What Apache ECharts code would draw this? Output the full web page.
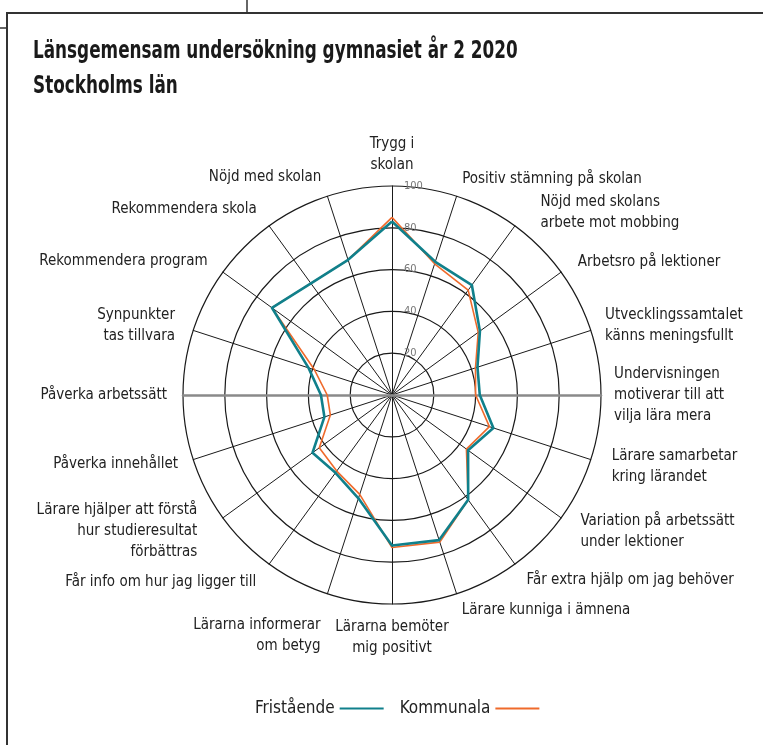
<!DOCTYPE html>
<html>
<head>
<meta charset="utf-8">
<title>Länsgemensam undersökning gymnasiet år 2 2020</title>
<script src="https://cdn.jsdelivr.net/npm/echarts@6/dist/echarts.min.js"></script>
<style>
  html, body { margin: 0; padding: 0; background: #fff; }
  #chart { width: 763px; height: 745px; }
</style>
</head>
<body>
<div id="chart"></div>
<script>
// indikatorer, medurs från toppen
const categories = [
  'Trygg i\nskolan',
  'Positiv stämning på skolan',
  'Nöjd med skolans\narbete mot mobbing',
  'Arbetsro på lektioner',
  'Utvecklingssamtalet\nkänns meningsfullt',
  'Undervisningen\nmotiverar till att\nvilja lära mera',
  'Lärare samarbetar\nkring lärandet',
  'Variation på arbetssätt\nunder lektioner',
  'Får extra hjälp om jag behöver',
  'Lärare kunniga i ämnena',
  'Lärarna bemöter\nmig positivt',
  'Lärarna informerar\nom betyg',
  'Får info om hur jag ligger till',
  'Lärare hjälper att förstå\nhur studieresultat\nförbättras',
  'Påverka innehållet',
  'Påverka arbetssätt',
  'Synpunkter\ntas tillvara',
  'Rekommendera program',
  'Rekommendera skola',
  'Nöjd med skolan'
]
const fristaende = [83, 67, 65, 52, 43, 42, 51, 45, 62, 73, 72, 52, 46, 47, 34, 34, 42, 71, 66, 68]
const kommunala = [85, 66, 62, 51, 42, 40, 49, 44, 62, 74, 73, 50, 45, 43, 31, 31, 39, 71, 66, 68]
const scaleMin = 0
const scaleMax = 100
const tickStep = 20

const FONT = "'Liberation Sans Narrow', 'DejaVu Sans Condensed', sans-serif"
const TEAL = '#10808b'
const ORANGE = '#ef6a2b'
const CENTER = [392, 395]
const RADIUS = 209
// avstånd mellan cirkeln och respektive etikett (samma ordning som categories)
const nameGaps = [10, 18, 30, 17, 15, 13, 22, 24, 20, 17, 13, 22, 22, 23, 16, 16, 15, 19, 21, 20]
// sidledes justering [top, right, bottom, left]
const namePads = {
  2: [0, 0, 0, 8],
  3: [0, 0, 0, 3],
  13: [0, 7, 0, 0],
  16: [0, 4, 0, 0]
}
// tomma rader ovanför för att skjuta ner etiketten
const nameDrop = {
  2: 1,
  11: 2
}

// echarts radar lägger axlarna moturs, vänd ordningen efter första
const clockwise = arr => [arr[0]].concat(arr.slice(1).reverse())

const indicators = categories.map((n, i) => {
  const ind = { name: n, min: scaleMin, max: scaleMax, nameGap: nameGaps[i] }
  if (namePads[i]) ind.nameTextStyle = { padding: namePads[i] }
  return ind
})

const chart = echarts.init(document.getElementById('chart'), null, { renderer: 'canvas' })
chart.setOption({
  backgroundColor: '#fff',
  animation: false,
  legend: {
    data: ['Fristående', 'Kommunala'],
    left: 250,
    top: 695,
    align: 'right',
    icon: 'rect',
    itemWidth: 44,
    itemHeight: 2,
    itemGap: 16,
    textStyle: { fontFamily: FONT, fontSize: 17, color: '#222' }
  },
  radar: [
    {
      center: CENTER,
      radius: RADIUS,
      startAngle: 90,
      shape: 'circle',
      splitNumber: (scaleMax - scaleMin) / tickStep,
      nameGap: 10,
      indicator: clockwise(indicators),
      axisName: {
        color: '#222',
        fontFamily: FONT,
        fontSize: 15,
        lineHeight: 21,
        formatter: name => {
          const i = categories.indexOf(name)
          return '\n'.repeat(nameDrop[i] || 0) + name
        }
      },
      axisLine: { lineStyle: { color: '#1a1a1a', width: 1 } },
      splitLine: { lineStyle: { color: '#1a1a1a', width: 1.2 } },
      splitArea: { show: false },
      axisTick: { show: false },
      axisLabel: { show: false }
    },
    {
      // grå horisontell linje
      center: CENTER,
      radius: RADIUS,
      startAngle: 0,
      shape: 'circle',
      splitNumber: 1,
      indicator: [{ name: '', max: scaleMax }, { name: '', max: scaleMax }],
      axisName: { show: false },
      axisLine: { lineStyle: { color: '#8a8a8a', width: 2.5 } },
      splitLine: { show: false },
      splitArea: { show: false }
    }
  ],
  polar: { center: CENTER, radius: RADIUS },
  angleAxis: { type: 'value', min: 0, max: 360, startAngle: 90, show: false },
  radiusAxis: {
    type: 'value',
    min: scaleMin,
    max: scaleMax,
    interval: tickStep,
    axisLine: { show: false },
    axisTick: { show: false },
    splitLine: { show: false },
    axisLabel: { show: true, showMinLabel: false, color: '#777', fontFamily: FONT, fontSize: 11, margin: -12, align: 'left' }
  },
  series: [
    {
      type: 'radar',
      radarIndex: 0,
      symbol: 'none',
      data: [
        {
          name: 'Kommunala',
          value: clockwise(kommunala),
          lineStyle: { color: ORANGE, width: 1.6 },
          itemStyle: { color: ORANGE }
        },
        {
          name: 'Fristående',
          value: clockwise(fristaende),
          lineStyle: { color: TEAL, width: 2.6 },
          itemStyle: { color: TEAL }
        }
      ]
    }
  ],
  graphic: [
    {
      type: 'text',
      x: 33,
      y: 34,
      scaleX: 0.78,
      style: {
        text: 'Länsgemensam undersökning gymnasiet år 2 2020\nStockholms län',
        font: "bold 24px 'DejaVu Sans Condensed', sans-serif",
        lineHeight: 35,
        fill: '#1a1a1a'
      }
    },
    { type: 'line', shape: { x1: 7, y1: 13, x2: 763, y2: 13 }, style: { stroke: '#333', lineWidth: 2 } },
    { type: 'line', shape: { x1: 7, y1: 12, x2: 7, y2: 745 }, style: { stroke: '#333', lineWidth: 2 } },
    { type: 'line', shape: { x1: 247, y1: 0, x2: 247, y2: 13 }, style: { stroke: '#333', lineWidth: 1.5 } },
    { type: 'line', shape: { x1: 0, y1: 28, x2: 7, y2: 28 }, style: { stroke: '#333', lineWidth: 1.5 } }
  ]
})
</script>
</body>
</html>
